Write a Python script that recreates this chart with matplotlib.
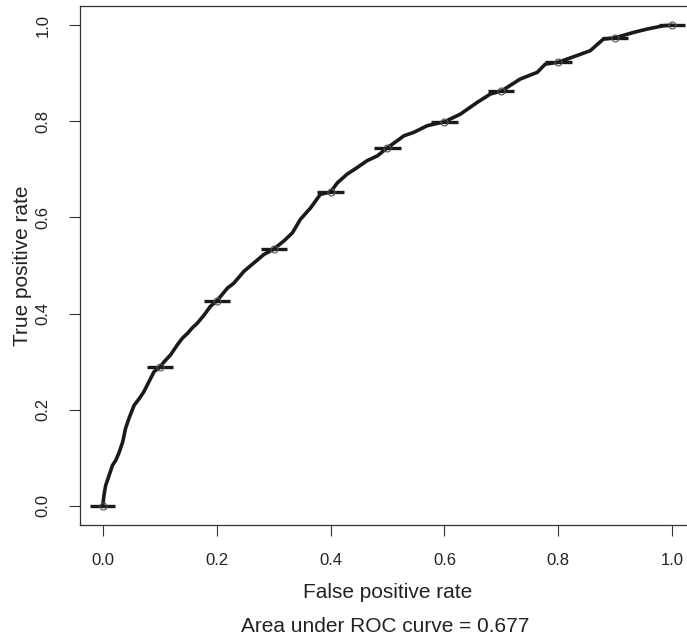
import matplotlib
matplotlib.use("Agg")
import matplotlib.pyplot as plt

plt.rcParams['font.family'] = ['Liberation Sans', 'DejaVu Sans']

# averaged ROC curve
fpr = [0.0, 0.002, 0.005, 0.011, 0.017, 0.023, 0.029, 0.035, 0.040, 0.046, 0.055,
       0.064, 0.072, 0.081, 0.090, 0.100, 0.108, 0.119, 0.131, 0.140, 0.149, 0.157,
       0.166, 0.178, 0.189, 0.200, 0.219, 0.230, 0.248, 0.265, 0.283, 0.300, 0.318,
       0.333, 0.347, 0.365, 0.382, 0.400, 0.412, 0.429, 0.447, 0.464, 0.482, 0.500,
       0.529, 0.546, 0.570, 0.600, 0.628, 0.657, 0.681, 0.700, 0.733, 0.763, 0.777,
       0.800, 0.833, 0.856, 0.879, 0.900, 0.932, 0.956, 0.985, 1.0]
tpr = [0.0, 0.021, 0.042, 0.063, 0.084, 0.095, 0.112, 0.133, 0.161, 0.182, 0.209,
       0.223, 0.237, 0.258, 0.279, 0.288, 0.300, 0.314, 0.335, 0.349, 0.359, 0.370,
       0.380, 0.397, 0.415, 0.426, 0.453, 0.463, 0.488, 0.505, 0.523, 0.534, 0.551,
       0.568, 0.596, 0.620, 0.648, 0.653, 0.672, 0.690, 0.704, 0.718, 0.728, 0.745,
       0.770, 0.777, 0.791, 0.799, 0.815, 0.839, 0.857, 0.863, 0.888, 0.902, 0.919,
       0.923, 0.937, 0.947, 0.971, 0.974, 0.985, 0.992, 0.999, 1.0]

# averaged points with horizontal spread bars
pt_fpr = [0.0, 0.1, 0.2, 0.3, 0.4, 0.5, 0.6, 0.7, 0.8, 0.9, 1.0]
pt_tpr = [0.0, 0.288, 0.426, 0.534, 0.653, 0.745, 0.799, 0.863, 0.923, 0.974, 1.0]
pt_err = [0.022, 0.023, 0.023, 0.023, 0.023, 0.023, 0.023, 0.023, 0.024, 0.023, 0.023]

auc = 0.677

fig = plt.figure(figsize=(6.87, 6.41), dpi=100)
W, H = 687, 641
ax = fig.add_axes([80 / W, 1 - 525 / H, (695 - 80) / W, (525 - 6) / H])

ax.plot(fpr, tpr, color="#1a1a1a", lw=2.6, solid_capstyle="round", zorder=3)
ax.errorbar(pt_fpr, pt_tpr, xerr=pt_err, fmt="none", ecolor="#1a1a1a",
            elinewidth=2.4, capsize=0, zorder=4)
ax.plot(pt_fpr, pt_tpr, "o", ms=5, mfc="none", mec="#555555", mew=0.8, zorder=5)

ax.set_xlim(-0.04, 1.04)
ax.set_ylim(-0.04, 1.04)
ticks = [0.0, 0.2, 0.4, 0.6, 0.8, 1.0]
ax.set_xticks(ticks)
ax.set_yticks(ticks)
ax.set_xticklabels([f"{t:.1f}" for t in ticks])
ax.set_yticklabels([f"{t:.1f}" for t in ticks], rotation=90, va="center")
ax.tick_params(axis="both", length=8, width=0.8, colors="#333333",
               labelsize=12, labelcolor="#222222")
ax.tick_params(axis="x", pad=12)
ax.tick_params(axis="y", pad=13)
for s in ax.spines.values():
    s.set_color("#333333")
    s.set_linewidth(0.9)

ax.set_xlabel("False positive rate", fontsize=15, color="#222222")
ax.set_ylabel("True positive rate", fontsize=15, color="#222222")
ax.xaxis.label.set_va("center")
ax.yaxis.label.set_va("center")
ax.xaxis.set_label_coords(0.5, -(592 - 525) / 519)
ax.yaxis.set_label_coords((22 - 80) / 615, 0.5)

fig.text(385 / W, 1 - 627 / H, f"Area under ROC curve = {auc:.3f}",
         ha="center", va="center", fontsize=15, color="#222222")

fig.savefig("out.png", dpi=100)
